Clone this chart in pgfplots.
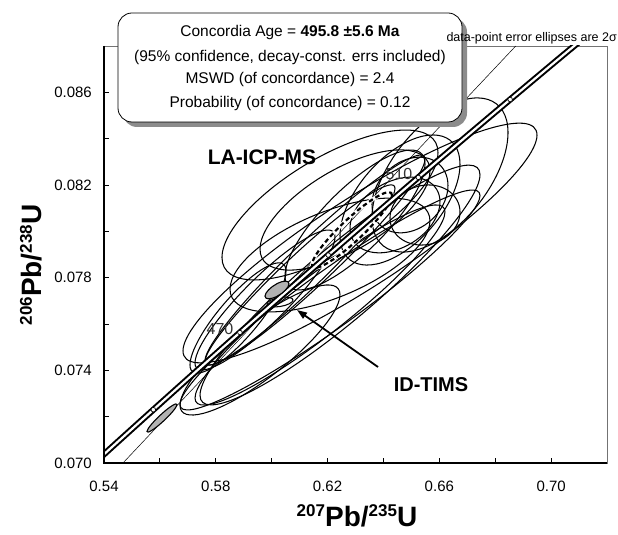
\documentclass[border=0pt]{standalone}
\usepackage{fontspec}
\setmainfont{Liberation Sans}
\usepackage{pgfplots}
\pgfplotsset{compat=1.18}
\usetikzlibrary{arrows.meta}

\newcommand\ellaxes{%
  \pgfmathsetmacro\ewx{\esx*2794.44}%
  \pgfmathsetmacro\ewy{\esy*1000*23.16667}%
  \pgfmathsetmacro\eay{\erho*\ewy}%
  \pgfmathsetmacro\eby{\ewy*sqrt(1-\erho*\erho)}}
\newcommand\ellpath{\pgfpathellipse{\pgfpointorigin}{\pgfpoint{\ewx pt}{\eay pt}}{\pgfpoint{0pt}{\eby pt}}}
\pgfdeclareplotmark{errell}{%
  \pgfscope\ellaxes
  \pgfsetlinewidth{1.05pt}\pgfsetstrokecolor{black}\pgfsetdash{}{0pt}%
  \ellpath\pgfusepath{stroke}%
  \endpgfscope}
\pgfdeclareplotmark{errellfill}{%
  \pgfscope\ellaxes
  \pgfsetlinewidth{1.1pt}\pgfsetstrokecolor{black}\pgfsetfillcolor{black!30}\pgfsetdash{}{0pt}%
  \ellpath\pgfusepath{fill,stroke}%
  \endpgfscope}
\pgfdeclareplotmark{errelldash}{%
  \pgfscope\ellaxes
  \pgfsetlinewidth{3.8pt}\pgfsetstrokecolor{white}\pgfsetdash{}{0pt}%
  \ellpath\pgfusepath{stroke}%
  \pgfsetlinewidth{2.2pt}\pgfsetstrokecolor{black}\pgfsetdash{{4.5pt}{3pt}}{0pt}%
  \ellpath\pgfusepath{stroke}%
  \endpgfscope}

\pgfplotsset{ellstyle/.style={only marks, scatter,
  scatter/@pre marker code/.code={}, scatter/@post marker code/.code={},
  visualization depends on={value \thisrow{sx}\as\esx},
  visualization depends on={value \thisrow{sy}\as\esy},
  visualization depends on={value \thisrow{rho}\as\erho}}}

\begin{document}
\begin{tikzpicture}
\begin{axis}[
  scale only axis, width=503pt, height=417pt,
  xmin=0.54, xmax=0.72, ymin=0.070, ymax=0.088,
  xtick={0.54,0.58,0.62,0.66,0.70},
  minor xtick={0.56,0.60,0.64,0.68},
  ytick={0.070,0.074,0.078,0.082,0.086},
  minor ytick={0.072,0.076,0.080,0.084},
  scaled ticks=false,
  tick pos=left, tick align=inside,
  major tick length=4.5pt, minor tick length=4.5pt,
  every tick/.style={black, line width=0.8pt},
  /pgf/number format/assume math mode=true,
  xticklabel style={/pgf/number format/fixed, /pgf/number format/fixed zerofill, /pgf/number format/precision=2,
     anchor=center, yshift=-23pt, font=\fontsize{15}{17}\selectfont},
  yticklabel style={/pgf/number format/fixed, /pgf/number format/fixed zerofill, /pgf/number format/precision=3,
     anchor=east, inner sep=0pt, xshift=-12pt, font=\fontsize{15}{17}\selectfont},
  axis line style={draw=black!55, line width=0.6pt},
  clip marker paths=true,
]
% thin line
\addplot[black, line width=0.5pt] coordinates {(0.54679,0.070) (0.68734,0.088)};
% LA-ICP-MS error ellipses (2 sigma)
\addplot[ellstyle, mark=errell] table {
x y sx sy rho
0.620870 0.081137 0.038648 0.003237 0.70
0.631610 0.079496 0.063340 0.005180 0.90
0.620870 0.077036 0.053678 0.004748 0.95
0.617296 0.076820 0.044731 0.004317 0.93
0.624453 0.077683 0.050099 0.005180 0.92
0.660238 0.082432 0.024334 0.003324 0.55
0.645924 0.081352 0.021471 0.002806 0.55
0.649502 0.081568 0.013598 0.001640 0.25
0.654870 0.080705 0.012525 0.001295 0.10
0.644134 0.080705 0.016103 0.001640 0.35
0.626242 0.080921 0.030417 0.002590 0.65
0.629820 0.080489 0.025050 0.003022 0.80
0.587952 0.076259 0.017177 0.002374 0.85
0.597614 0.077036 0.025050 0.003022 0.90
0.615506 0.078762 0.039364 0.004532 0.96
0.610139 0.078115 0.033996 0.003885 0.96
0.595825 0.074878 0.028628 0.002806 0.85
0.620870 0.078978 0.035785 0.002460 0.60
0.602982 0.076950 0.004652 0.000216 0.40
};
% concordia age ellipse (dashed)
\addplot[ellstyle, mark=errelldash] table {
x y sx sy rho
0.628747 0.080057 0.014314 0.001640 0.92
};
% concordia curve
\addplot[black, line width=6.2pt, smooth] table {
x y
0.527276 0.068979
0.542392 0.070638
0.557658 0.072300
0.573073 0.073966
0.588643 0.075633
0.604364 0.077302
0.620243 0.078975
0.636279 0.080650
0.652473 0.082328
0.668827 0.084008
0.685345 0.085690
0.702024 0.087377
0.718871 0.089064
};
\addplot[white, line width=2.2pt, smooth] table {
x y
0.527276 0.068979
0.542392 0.070638
0.557658 0.072300
0.573073 0.073966
0.588643 0.075633
0.604364 0.077302
0.620243 0.078975
0.636279 0.080650
0.652473 0.082328
0.668827 0.084008
0.685345 0.085690
0.702024 0.087377
0.718871 0.089064
};
% age markers 450..530 Ma
\addplot[only marks, mark=*, mark size=2.3pt, mark options={fill=white, draw=black, line width=0.7pt}] table {
x y
0.557658 0.072300
0.588643 0.075633
0.620243 0.078975
0.652473 0.082328
0.685345 0.085690
};
% ID-TIMS ellipses
\addplot[ellstyle, mark=errellfill] table {
x y sx sy rho
0.560755 0.071942 0.005368 0.000604 0.95
0.601908 0.077468 0.004294 0.000388 0.70
};
\end{axis}
% thicker left and bottom axis lines
\draw[black, line width=1.3pt] (0pt,417pt) -- (0pt,0pt) -- (503pt,0pt);
% labels
\node[anchor=base, inner sep=0pt, font=\bfseries\fontsize{28}{30}\selectfont] at (253pt,-63pt)
  {\raisebox{10pt}{\fontsize{17}{17}\selectfont 207}Pb/\raisebox{10pt}{\fontsize{17}{17}\selectfont 235}U};
\node[anchor=base, inner sep=0pt, rotate=90, font=\bfseries\fontsize{28}{30}\selectfont] at (-62pt,198pt)
  {\raisebox{10pt}{\fontsize{17}{17}\selectfont 206}Pb/\raisebox{10pt}{\fontsize{17}{17}\selectfont 238}U};
% info box
\fill[black!45, rounded corners=14pt] (19pt,336pt) rectangle (363pt,445pt);
\draw[fill=white, rounded corners=14pt, line width=0.8pt] (14pt,341pt) rectangle (358pt,450pt);
\begin{scope}[every node/.style={anchor=base, inner sep=0pt, font=\fontsize{15.5}{18}\selectfont}]
\node at (186pt,426pt) {Concordia Age = \textbf{495.8 ±5.6 Ma}};
\node at (186pt,401pt) {(95\% confidence, decay-const. errs included)};
\node at (186pt,379pt) {MSWD (of concordance) = 2.4};
\node at (186pt,355pt) {Probability (of concordance) = 0.12};
\end{scope}
\node[anchor=base east, inner sep=0pt, font=\fontsize{12.5}{14}\selectfont] at (513pt,421pt) {data-point error ellipses are 2σ};
\node[anchor=base, inner sep=0pt, font=\bfseries\fontsize{21}{24}\selectfont] at (158pt,298pt) {LA-ICP-MS};
\node[anchor=base, inner sep=0pt, font=\bfseries\fontsize{20}{24}\selectfont] at (327pt,71pt) {ID-TIMS};
\node[anchor=base, inner sep=0pt, text=black!80, font=\fontsize{16}{18}\selectfont] at (116pt,128pt) {470};
\node[anchor=base, inner sep=0pt, text=black!80, font=\fontsize{16}{18}\selectfont] at (295pt,283pt) {510};
\draw[-{Triangle[length=10pt,width=7pt]}, line width=1.8pt] (274pt,96pt) -- (193pt,153pt);
\pgfresetboundingbox
\useasboundingbox (-104pt,-72pt) rectangle (514pt,463pt);
\end{tikzpicture}
\end{document}
